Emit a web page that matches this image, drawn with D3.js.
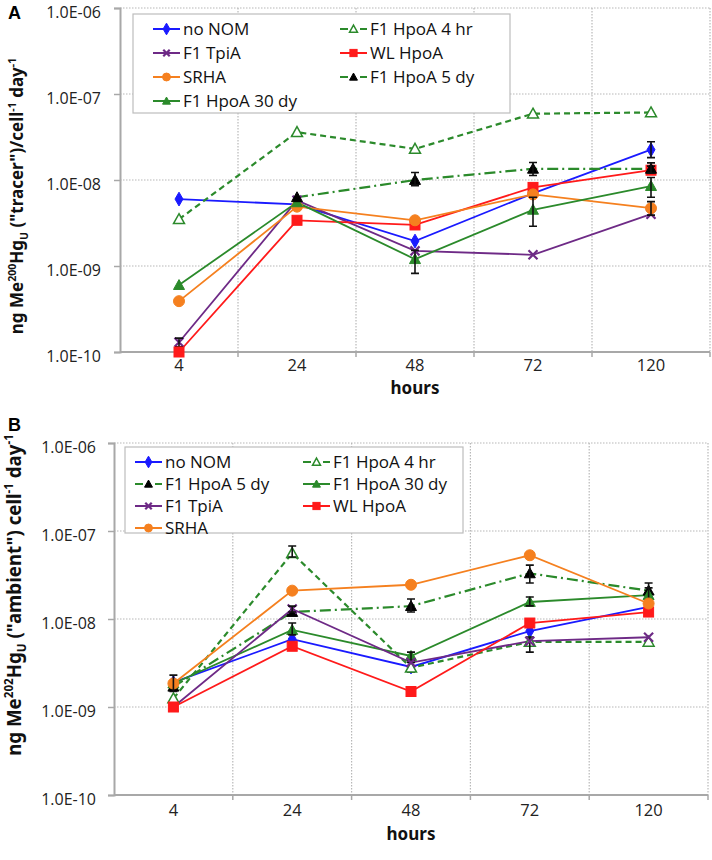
<!DOCTYPE html>
<html><head><meta charset="utf-8">
<script src="https://cdn.jsdelivr.net/npm/d3@7"></script>
<style>
body{margin:0;background:#fff;}
svg{display:block;font-family:"Noto Sans","Open Sans",sans-serif;}
</style></head>
<body>
<svg id="chart" width="712" height="860"></svg>
<script>
// ---------- DATA ----------
const hours = ["4", "24", "48", "72", "120"];
const yTicks = [1e-10, 1e-9, 1e-8, 1e-7, 1e-6];

// Panel A (tracer)
const A_noNOM = [6.0e-9, 5.2e-9, 1.95e-9, 7.0e-9, 2.25e-8];
const A_4hr   = [3.5e-9, 3.6e-8, 2.3e-8, 5.9e-8, 6.1e-8];
const A_TpiA  = [1.3e-10, 5.8e-9, 1.5e-9, 1.35e-9, 4.0e-9];
const A_WL    = [1.0e-10, 3.4e-9, 3.0e-9, 8.2e-9, 1.3e-8];
const A_SRHA  = [3.9e-10, 4.9e-9, 3.4e-9, 6.8e-9, 4.7e-9];
const A_5dy   = [null, 6.3e-9, 1.0e-8, 1.35e-8, 1.35e-8];
const A_30dy  = [6.0e-10, 5.5e-9, 1.2e-9, 4.5e-9, 8.5e-9];
// error bar lows / highs (null = none)
const A_noNOM_lo = [null, null, null, null, 1.82e-8];
const A_noNOM_hi = [null, null, null, null, 2.79e-8];
const A_5dy_lo   = [null, null, 8.6e-9, 1.13e-8, 1.2e-8];
const A_5dy_hi   = [null, null, 1.22e-8, 1.6e-8, 1.58e-8];
const A_30dy_lo  = [null, null, 8.2e-10, 2.9e-9, 6.3e-9];
const A_30dy_hi  = [null, null, 1.52e-9, 6.3e-9, 1.07e-8];
const A_SRHA_lo  = [null, null, null, null, 3.9e-9];
const A_SRHA_hi  = [null, null, null, null, 5.6e-9];
const A_WL_lo    = [null, null, null, null, 1.2e-8];
const A_WL_hi    = [null, null, null, null, 1.45e-8];
const A_TpiA_lo  = [1.15e-10, null, null, null, null];
const A_TpiA_hi  = [1.45e-10, null, null, null, null];

// Panel B (ambient)
const B_noNOM = [1.9e-9, 5.9e-9, 2.85e-9, 7.3e-9, 1.37e-8];
const B_4hr   = [1.25e-9, 5.6e-8, 2.8e-9, 5.5e-9, 5.5e-9];
const B_5dy   = [1.7e-9, 1.2e-8, 1.4e-8, 3.3e-8, 2.1e-8];
const B_30dy  = [1.85e-9, 7.5e-9, 3.8e-9, 1.56e-8, 1.87e-8];
const B_TpiA  = [1.0e-9, 1.3e-8, 3.2e-9, 5.6e-9, 6.2e-9];
const B_WL    = [1.0e-9, 4.9e-9, 1.5e-9, 9.0e-9, 1.2e-8];
const B_SRHA  = [1.85e-9, 2.1e-8, 2.45e-8, 5.3e-8, 1.5e-8];
const B_4hr_lo  = [null, 5.07e-8, null, 4.2e-9, null];
const B_4hr_hi  = [null, 6.76e-8, null, 6.24e-9, null];
const B_5dy_lo  = [null, null, 1.2e-8, 2.57e-8, 1.8e-8];
const B_5dy_hi  = [null, null, 1.69e-8, 4.1e-8, 2.57e-8];
const B_30dy_lo = [null, 6.6e-9, 3.4e-9, 1.41e-8, 1.64e-8];
const B_30dy_hi = [null, 9.0e-9, 4.2e-9, 1.78e-8, 2.26e-8];
const B_TpiA_lo = [null, 1.2e-8, null, null, null];
const B_TpiA_hi = [null, 1.4e-8, null, null, null];
const B_SRHA_lo = [1.5e-9, null, null, null, null];
const B_SRHA_hi = [2.3e-9, null, null, null, null];
const B_noNOM_lo = [null, null, 2.5e-9, null, null];
const B_noNOM_hi = [null, null, 3.2e-9, null, null];

// ---------- STYLES ----------
const GREEN = "#2b8a2b";
const styles = {
  noNOM: {name: "no NOM", line: "#1a1aff", dash: null, marker: "diamond", fill: "#1a1aff", stroke: "#1a1aff"},
  h4:    {name: "F1 HpoA 4 hr", line: GREEN, dash: "6,4", marker: "triangle", fill: "#fff", stroke: GREEN},
  TpiA:  {name: "F1 TpiA", line: "#6e2a86", dash: null, marker: "x", fill: "#6e2a86", stroke: "#6e2a86"},
  WL:    {name: "WL HpoA", line: "#ff1a1a", dash: null, marker: "square", fill: "#ff1a1a", stroke: "#ff1a1a"},
  SRHA:  {name: "SRHA", line: "#f5801f", dash: null, marker: "circle", fill: "#f5801f", stroke: "#f5801f"},
  d5:    {name: "F1 HpoA 5 dy", line: GREEN, dash: "11,4,2,4", marker: "triangle", fill: "#000", stroke: "#000"},
  d30:   {name: "F1 HpoA 30 dy", line: GREEN, dash: null, marker: "triangle", fill: GREEN, stroke: GREEN}
};

const panelA = {
  label: "A", labelPos: [8, 19],
  left: 120, right: 710, top: 8, bottom: 352,
  tickLabelX: 101, xLabelY: 371, xTitleY: 394,
  title: ["ng Me", {sup: "200"}, "Hg", {sub: "U"}, " (\"tracer\")/cell", {sup: "-1"}, " day", {sup: "-1"}],
  titleX: 23, titleY: 196, titleSize: 17,
  series: [
    {k: "noNOM", v: A_noNOM, lo: A_noNOM_lo, hi: A_noNOM_hi},
    {k: "h4", v: A_4hr},
    {k: "TpiA", v: A_TpiA, lo: A_TpiA_lo, hi: A_TpiA_hi},
    {k: "WL", v: A_WL, lo: A_WL_lo, hi: A_WL_hi},
    {k: "SRHA", v: A_SRHA, lo: A_SRHA_lo, hi: A_SRHA_hi},
    {k: "d30", v: A_30dy, lo: A_30dy_lo, hi: A_30dy_hi},
    {k: "d5", v: A_5dy, lo: A_5dy_lo, hi: A_5dy_hi}
  ],
  legend: {x: 133, y: 14, w: 377, h: 99, cols: [["noNOM", "TpiA", "SRHA", "d30"], ["h4", "WL", "d5"]], colX: [153, 340], rowY: 24}
};
const panelB = {
  label: "B", labelPos: [8, 431],
  left: 114, right: 708, top: 443, bottom: 795,
  tickLabelX: 96, xLabelY: 816, xTitleY: 840,
  title: ["ng Me", {sup: "202"}, "Hg", {sub: "U"}, " (\"ambient\") cell", {sup: "-1"}, " day", {sup: "-1"}],
  titleX: 21, titleY: 595, titleSize: 18.7,
  series: [
    {k: "noNOM", v: B_noNOM, lo: B_noNOM_lo, hi: B_noNOM_hi},
    {k: "h4", v: B_4hr, lo: B_4hr_lo, hi: B_4hr_hi},
    {k: "d5", v: B_5dy, lo: B_5dy_lo, hi: B_5dy_hi},
    {k: "d30", v: B_30dy, lo: B_30dy_lo, hi: B_30dy_hi},
    {k: "TpiA", v: B_TpiA, lo: B_TpiA_lo, hi: B_TpiA_hi},
    {k: "WL", v: B_WL},
    {k: "SRHA", v: B_SRHA, lo: B_SRHA_lo, hi: B_SRHA_hi}
  ],
  legend: {x: 125, y: 447, w: 338, h: 86, cols: [["noNOM", "d5", "TpiA", "SRHA"], ["h4", "d30", "WL"]], colX: [135, 303], rowY: 22}
};

const svg = d3.select("#chart");

function fmtE(v) {
  const e = Math.round(Math.log10(v));
  const s = e < 0 ? "-" : "+";
  const a = Math.abs(e);
  return "1.0E" + s + (a < 10 ? "0" + a : a);
}

function drawMarker(g, type, cx, cy, st, size) {
  const s = size || 1;
  if (type === "diamond") {
    g.append("path").attr("d", d3.symbol(d3.symbolDiamond, 55 * s)()).attr("transform", `translate(${cx},${cy})`)
      .attr("fill", st.fill).attr("stroke", st.stroke).attr("stroke-width", 1);
  } else if (type === "square") {
    const h = 5 * s;
    g.append("rect").attr("x", cx - h).attr("y", cy - h).attr("width", 2 * h).attr("height", 2 * h)
      .attr("fill", st.fill).attr("stroke", st.stroke);
  } else if (type === "circle") {
    g.append("circle").attr("cx", cx).attr("cy", cy).attr("r", 5.5 * s).attr("fill", st.fill).attr("stroke", st.stroke);
  } else if (type === "triangle") {
    const h = 5.5 * s;
    g.append("path").attr("d", `M${cx},${cy - h}L${cx + h},${cy + h * 0.8}L${cx - h},${cy + h * 0.8}Z`)
      .attr("fill", st.fill).attr("stroke", st.stroke).attr("stroke-width", st.fill === "#fff" ? 1.5 : 1);
  } else if (type === "x") {
    const h = 4.5 * s;
    g.append("path").attr("d", `M${cx - h},${cy - h}L${cx + h},${cy + h}M${cx - h},${cy + h}L${cx + h},${cy - h}`)
      .attr("stroke", st.stroke).attr("stroke-width", 2.2).attr("fill", "none");
  }
}

function drawPanel(P) {
  const g = svg.append("g");
  const x = d3.scaleBand().domain(hours).range([P.left, P.right]);
  const y = d3.scaleLog().domain([1e-10, 1e-6]).range([P.bottom, P.top]);
  const cx = d => x(d) + x.bandwidth() / 2;

  // gridlines
  g.append("g").selectAll("line").data(yTicks.slice(1)).join("line")
    .attr("x1", P.left).attr("x2", P.right).attr("y1", d => y(d)).attr("y2", d => y(d))
    .attr("stroke", "#b8b8b8").attr("stroke-width", 1.2).attr("stroke-dasharray", "1.5,1.5");
  g.append("g").selectAll("line").data(hours).join("line")
    .attr("x1", d => x(d) + x.bandwidth()).attr("x2", d => x(d) + x.bandwidth())
    .attr("y1", P.top).attr("y2", P.bottom)
    .attr("stroke", "#b8b8b8").attr("stroke-width", 1.2).attr("stroke-dasharray", "1.5,1.5");

  // y axis
  const ya = g.append("g").attr("transform", `translate(${P.left},0)`)
    .call(d3.axisLeft(y).tickValues(yTicks).tickFormat(fmtE).tickSize(6).tickPadding(P.left - P.tickLabelX - 6));
  ya.select(".domain").attr("stroke", "#a8a8a8").attr("stroke-width", 2);
  ya.selectAll(".tick line").attr("stroke", "#a8a8a8").attr("stroke-width", 1.5);
  ya.selectAll(".tick text").attr("font-size", 16).attr("fill", "#222").attr("dy", "0.6em")
    .attr("font-family", "'Open Sans',sans-serif");

  // x axis
  g.append("line").attr("x1", P.left).attr("x2", P.right).attr("y1", P.bottom).attr("y2", P.bottom)
    .attr("stroke", "#a8a8a8").attr("stroke-width", 2);
  g.append("g").selectAll("line").data(hours).join("line")
    .attr("x1", d => x(d) + x.bandwidth()).attr("x2", d => x(d) + x.bandwidth())
    .attr("y1", P.bottom).attr("y2", P.bottom + 5).attr("stroke", "#a8a8a8").attr("stroke-width", 1.5);
  g.append("g").selectAll("text").data(hours).join("text")
    .attr("x", cx).attr("y", P.xLabelY).attr("text-anchor", "middle")
    .attr("font-size", 16.5).attr("fill", "#222").attr("font-family", "'Open Sans',sans-serif").text(d => d);
  g.append("text").attr("x", (P.left + P.right) / 2).attr("y", P.xTitleY).attr("text-anchor", "middle")
    .attr("font-size", 17).attr("font-weight", "bold").attr("fill", "#111").text("hours");

  // y title
  const t = g.append("text").attr("transform", `translate(${P.titleX},${P.titleY}) rotate(-90)`)
    .attr("text-anchor", "middle").attr("font-size", P.titleSize).attr("font-weight", "bold").attr("fill", "#111");
  const ss = P.titleSize * 0.62, up = P.titleSize * 0.42, dn = P.titleSize * 0.27;
  let shift = 0;
  P.title.forEach(part => {
    if (typeof part === "string") {
      t.append("tspan").attr("dy", -shift).text(part); shift = 0;
    } else if (part.sup) {
      t.append("tspan").attr("dy", -up - shift).attr("font-size", ss).text(part.sup); shift = -up;
    } else if (part.sub) {
      t.append("tspan").attr("dy", dn - shift).attr("font-size", ss).text(part.sub); shift = dn;
    }
  });

  // panel letter
  g.append("text").attr("x", P.labelPos[0]).attr("y", P.labelPos[1]).attr("font-size", 18)
    .attr("font-weight", "bold").attr("font-family", "'Liberation Sans',Arial,sans-serif").text(P.label);

  // lines
  const line = d3.line().defined(d => d.v != null).x(d => cx(d.h)).y(d => y(d.v));
  P.series.forEach(s => {
    const st = styles[s.k];
    const pts = hours.map((h, i) => ({h, v: s.v[i]}));
    g.append("path").datum(pts).attr("d", line).attr("fill", "none")
      .attr("stroke", st.line).attr("stroke-width", st.dash ? 2.2 : 1.8)
      .attr("stroke-dasharray", st.dash);
  });
  // markers + error bars
  P.series.forEach(s => {
    const st = styles[s.k];
    const mg = g.append("g");
    hours.forEach((h, i) => {
      if (s.v[i] == null) return;
      drawMarker(mg, st.marker, cx(h), y(s.v[i]), st, 1);
    });
    if (s.lo) {
      hours.forEach((h, i) => {
        if (s.lo[i] == null) return;
        const X = cx(h), y1 = y(s.lo[i]), y2 = y(s.hi[i]);
        mg.append("path").attr("d", `M${X},${y1}V${y2}M${X - 4},${y1}H${X + 4}M${X - 4},${y2}H${X + 4}`)
          .attr("stroke", "#111").attr("stroke-width", 1.6).attr("fill", "none");
      });
    }
  });

  // legend
  const L = P.legend;
  const lg = g.append("g");
  lg.append("rect").attr("x", L.x).attr("y", L.y).attr("width", L.w).attr("height", L.h)
    .attr("fill", "#fff").attr("stroke", "#bdbdbd").attr("stroke-width", 1.2);
  L.cols.forEach((col, ci) => {
    col.forEach((k, ri) => {
      const st = styles[k];
      const yy = L.y + 15 + ri * L.rowY;
      const x0 = L.colX[ci];
      if (st.dash) {
        lg.append("line").attr("x1", x0).attr("x2", x0 + 8).attr("y1", yy).attr("y2", yy).attr("stroke", st.line).attr("stroke-width", 2);
        lg.append("line").attr("x1", x0 + 20).attr("x2", x0 + 27).attr("y1", yy).attr("y2", yy).attr("stroke", st.line).attr("stroke-width", 2);
      } else {
        lg.append("line").attr("x1", x0).attr("x2", x0 + 27).attr("y1", yy).attr("y2", yy).attr("stroke", st.line).attr("stroke-width", 2);
      }
      drawMarker(lg, st.marker, x0 + 13.5, yy, st, 0.72);
      lg.append("text").attr("x", x0 + 30).attr("y", yy + 6).attr("font-size", 17)
        .attr("fill", "#111").attr("font-family", "'Open Sans',sans-serif").text(st.name);
    });
  });
}

drawPanel(panelA);
drawPanel(panelB);
</script>
</body></html>
